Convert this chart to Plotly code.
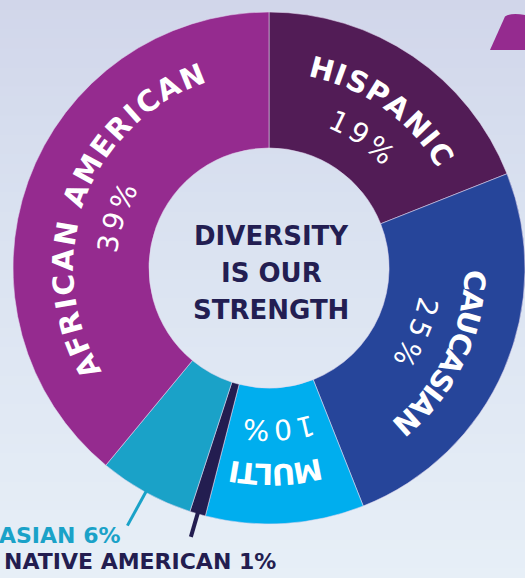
import math
import plotly.graph_objects as go

# ---------------- data ----------------
categories = ["Hispanic", "Caucasian", "Multi", "Native American", "Asian", "African American"]
percent_values = [19, 25, 10, 1, 6, 39]
ring_names = ["HISPANIC", "CAUCASIAN", "MULTI", "", "", "AFRICAN AMERICAN"]
outside_names = ["", "", "", "NATIVE AMERICAN", "ASIAN", ""]
center_title = ["DIVERSITY", "IS OUR", "STRENGTH"]

# ---------------- style / layout ----------------
W, H = 525, 578
CX, CY, R_OUT = 269, 268, 256
HOLE = 0.469
colors = ["#521c56", "#26459a", "#00aeee", "#231d50", "#1aa2c8", "#952b8f"]
NAVY = "#231e52"
FONT = "DejaVu Sans"
LABEL_SIZE = 29
PCT_SIZE = 28
LABEL_R = 206
PCT_R = 162
label_tracking = [2.3, -0.8, -2.0, 0, 0, 3.1]
label_offset = [1.2, 2.6, 1.8, 0, 0, 0.1]
pct_tracking = 5.0
pct_offset = [1.2, 0.1, 0.2, 0, 0, -1.5]

BOLD_W = {'A': .774, 'C': .734, 'E': .683, 'F': .632, 'H': .837, 'I': .372, 'L': .637,
          'M': .995, 'N': .837, 'P': .733, 'R': .770, 'S': .720, 'T': .682, 'U': .812,
          'V': .774, ' ': .348}
REG_W = {'0': .636, '1': .636, '2': .636, '3': .636, '5': .636, '6': .636, '9': .636, '%': .950}


def to_paper(px, py):
    return px / W, 1 - py / H


def norm_angle(a):
    return (a + 180) % 360 - 180


annotations = []


def arc_text(text, mid_deg, r, size, tracking, table, weight, color):
    widths = [table.get(c, .7) * size for c in text]
    total = sum(widths) + tracking * (len(text) - 1)
    pos = -total / 2
    for c, w in zip(text, widths):
        center = pos + w / 2
        theta = mid_deg + math.degrees(center / r)
        t = math.radians(theta)
        px = CX + r * math.sin(t)
        py = CY - r * math.cos(t)
        if c != ' ':
            x, y = to_paper(px, py)
            annotations.append(dict(
                x=x, y=y, xref="paper", yref="paper", text=c, showarrow=False,
                xanchor="center", yanchor="middle", textangle=norm_angle(theta),
                font=dict(family=FONT, size=size, color=color, weight=weight)))
        pos += w + tracking


# cumulative angles from the data (clockwise from 12 o'clock)
total_val = sum(percent_values)
mids = []
acc = 0
for v in percent_values:
    mids.append((acc + v / 2) / total_val * 360)
    acc += v

for i, name in enumerate(ring_names):
    if name:
        arc_text(name, mids[i] + label_offset[i], LABEL_R, LABEL_SIZE,
                 label_tracking[i], BOLD_W, "bold", "white")
        arc_text(f"{percent_values[i]}%", mids[i] + pct_offset[i], PCT_R, PCT_SIZE,
                 pct_tracking, REG_W, "normal", "white")

# center title
for k, line in enumerate(center_title):
    x, y = to_paper(CX + 2, 236 + 37 * k)
    annotations.append(dict(x=x, y=y, xref="paper", yref="paper", text=line,
                            showarrow=False, xanchor="center", yanchor="middle",
                            font=dict(family=FONT, size=26, color=NAVY, weight="bold")))

shapes = []
# background gradient bands
stops = [(0.0, (209, 214, 234)), (0.35, (217, 225, 240)), (1.0, (231, 239, 247))]


def grad(t):
    for (t0, c0), (t1, c1) in zip(stops[:-1], stops[1:]):
        if t <= t1:
            f = (t - t0) / (t1 - t0)
            return "rgb(%d,%d,%d)" % tuple(round(a + (b - a) * f) for a, b in zip(c0, c1))
    return "rgb(%d,%d,%d)" % stops[-1][1]


NB = 60
for b in range(NB):
    shapes.append(dict(type="rect", xref="paper", yref="paper", x0=0, x1=1,
                       y0=1 - (b + 1) / NB - 0.002, y1=1 - b / NB,
                       fillcolor=grad((b + 0.5) / NB), line=dict(width=0), layer="below"))

# decorative purple tab top right
pts = [(490, 50), (505, 16.5), (511, 12.5), (525, 15), (525, 50)]
pp = [to_paper(*p) for p in pts]
path = "M {} {} L {} {} Q {} {} {} {} L {} {} Z".format(
    pp[0][0], pp[0][1], pp[1][0], pp[1][1], pp[2][0], pp[2][1],
    pp[3][0], pp[3][1], pp[4][0], pp[4][1])
shapes.append(dict(type="path", path=path, xref="paper", yref="paper",
                   fillcolor="#952b8f", line=dict(width=0), layer="below"))

# outside labels with leader lines
leader_len = {"ASIAN": 38, "NATIVE AMERICAN": 24}
leader_w = {"ASIAN": 3, "NATIVE AMERICAN": 4}
label_pos = {"ASIAN": (123, 535), "NATIVE AMERICAN": (278, 561)}
for i, name in enumerate(outside_names):
    if not name:
        continue
    t = math.radians(mids[i])
    x0, y0 = CX + (R_OUT - 2) * math.sin(t), CY - (R_OUT - 2) * math.cos(t)
    r1 = R_OUT + leader_len[name]
    x1, y1 = CX + r1 * math.sin(t), CY - r1 * math.cos(t)
    a0, b0 = to_paper(x0, y0)
    a1, b1 = to_paper(x1, y1)
    shapes.append(dict(type="line", xref="paper", yref="paper", x0=a0, y0=b0, x1=a1, y1=b1,
                       line=dict(color=colors[i], width=leader_w[name])))
    lx, ly = to_paper(*label_pos[name])
    annotations.append(dict(x=lx, y=ly, xref="paper", yref="paper",
                            text=f"{name} {percent_values[i]}%", showarrow=False,
                            xanchor="right", yanchor="middle",
                            font=dict(family=FONT, size=22, color=colors[i], weight="bold")))

fig = go.Figure(go.Pie(
    labels=categories, values=percent_values, hole=HOLE, sort=False,
    direction="clockwise", rotation=0, textinfo="none", showlegend=False,
    marker=dict(colors=colors, line=dict(color="rgba(225,215,238,0.55)", width=1)),
    domain=dict(x=[(CX - R_OUT) / W, min(1, (CX + R_OUT) / W)],
                y=[1 - (CY + R_OUT) / H, 1 - (CY - R_OUT) / H]),
    hoverinfo="label+percent",
))

fig.update_layout(width=W, height=H, autosize=False,
                  margin=dict(l=0, r=0, t=0, b=0, pad=0),
                  paper_bgcolor="rgb(220,228,241)", plot_bgcolor="rgba(0,0,0,0)",
                  shapes=shapes, annotations=annotations)

fig.write_html("out.html", config={"displayModeBar": False},
               post_script="document.body.style.margin='0';document.body.style.overflow='hidden';")
